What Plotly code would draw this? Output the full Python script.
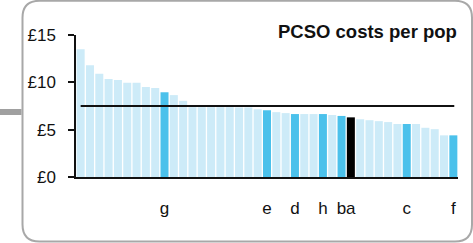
import plotly.graph_objects as go

# ---- data ----
values = [13.5, 11.8, 10.9, 10.35, 10.25, 9.95, 9.95, 9.5, 9.4, 8.95,
          8.65, 8.05, 7.38, 7.38, 7.38, 7.38, 7.38, 7.35, 7.35, 7.15,
          7.05, 6.85, 6.75, 6.65, 6.65, 6.65, 6.65, 6.55, 6.45, 6.3,
          6.1, 6.0, 5.9, 5.8, 5.6, 5.6, 5.6, 5.2, 5.05, 4.4, 4.4]
labels = ["", "", "", "", "", "", "", "", "", "g",
          "", "", "", "", "", "", "", "", "", "",
          "e", "", "", "d", "", "", "h", "", "b", "a",
          "", "", "", "", "", "c", "", "", "", "", "f"]
# kind: 0 = other, 1 = highlighted, 2 = selected
kinds = [0, 0, 0, 0, 0, 0, 0, 0, 0, 1,
         0, 0, 0, 0, 0, 0, 0, 0, 0, 0,
         1, 0, 0, 1, 0, 0, 1, 0, 1, 2,
         0, 0, 0, 0, 0, 1, 0, 0, 0, 0, 1]
average = 7.5
y_ticks = [0, 5, 10, 15]
y_ticktext = ["£0", "£5", "£10", "£15"]
title_text = "PCSO costs per pop"

palette = {0: "#cdebf8", 1: "#4bc1eb", 2: "#000000"}
colors = [palette[k] for k in kinds]
xs = list(range(len(values)))

W, H = 473, 243
L, R, T, B = 76, 15, 35, 66
pw, ph = W - L - R, H - T - B


def px(x):
    return (x - L) / pw


def py(y):
    return (H - B - y) / ph


fig = go.Figure()
fig.add_trace(go.Bar(x=xs, y=values, marker=dict(color=colors, line=dict(width=0)),
                     hoverinfo="skip"))
fig.add_trace(go.Scatter(x=[0, 40.1], y=[average, average], mode="lines",
                         line=dict(color="#111111", width=2), hoverinfo="skip"))

# rounded frame
x0, x1, y0, y1, r = 22.5, 472, 0.8, 241.5, 17
path = (f"M {px(x0+r)},{py(y0)} L {px(x1-r)},{py(y0)} "
        f"Q {px(x1)},{py(y0)} {px(x1)},{py(y0+r)} "
        f"L {px(x1)},{py(y1-r)} Q {px(x1)},{py(y1)} {px(x1-r)},{py(y1)} "
        f"L {px(x0+r)},{py(y1)} Q {px(x0)},{py(y1)} {px(x0)},{py(y1-r)} "
        f"L {px(x0)},{py(y0+r)} Q {px(x0)},{py(y0)} {px(x0+r)},{py(y0)} Z")
fig.add_shape(type="path", path=path, xref="paper", yref="paper",
              line=dict(color="#a8a8a8", width=2), layer="below")
fig.add_shape(type="rect", xref="paper", yref="paper",
              x0=px(-1), x1=px(21.5), y0=py(115), y1=py(109),
              fillcolor="#a0a0a0", line=dict(width=0))

fig.add_annotation(text=f"<b>{title_text}</b>", xref="paper", yref="paper",
                   x=px(458.5), y=py(31), xanchor="right", yanchor="middle",
                   showarrow=False, font=dict(size=18.5, color="#111111"))

fig.update_layout(
    width=W, height=H, margin=dict(l=L, r=R, t=T, b=B, pad=0, autoexpand=False),
    paper_bgcolor="white", plot_bgcolor="white", showlegend=False,
    bargap=0.14,
    font=dict(family="Liberation Sans, Arial, sans-serif", color="#111111"),
    xaxis=dict(range=[-0.5, len(values) - 0.5], tickmode="array", tickvals=xs,
               ticktext=labels, ticks="", showgrid=False, zeroline=False,
               showline=True, linecolor="#111111", linewidth=2, tickangle=0,
               automargin=False,
               tickfont=dict(size=17), ticklabelstandoff=15),
    yaxis=dict(range=[0, 15], tickmode="array", tickvals=y_ticks,
               ticktext=y_ticktext, ticks="outside", ticklen=6,
               tickcolor="#111111", tickwidth=1.5, showgrid=False, zeroline=False,
               showline=True, linecolor="#111111", linewidth=1.5,
               automargin=False,
               tickfont=dict(size=17), ticklabelstandoff=9),
)

fig.write_html("out.html", config={"displayModeBar": False},
               post_script="document.body.style.margin='0';document.body.style.overflow='hidden';")
